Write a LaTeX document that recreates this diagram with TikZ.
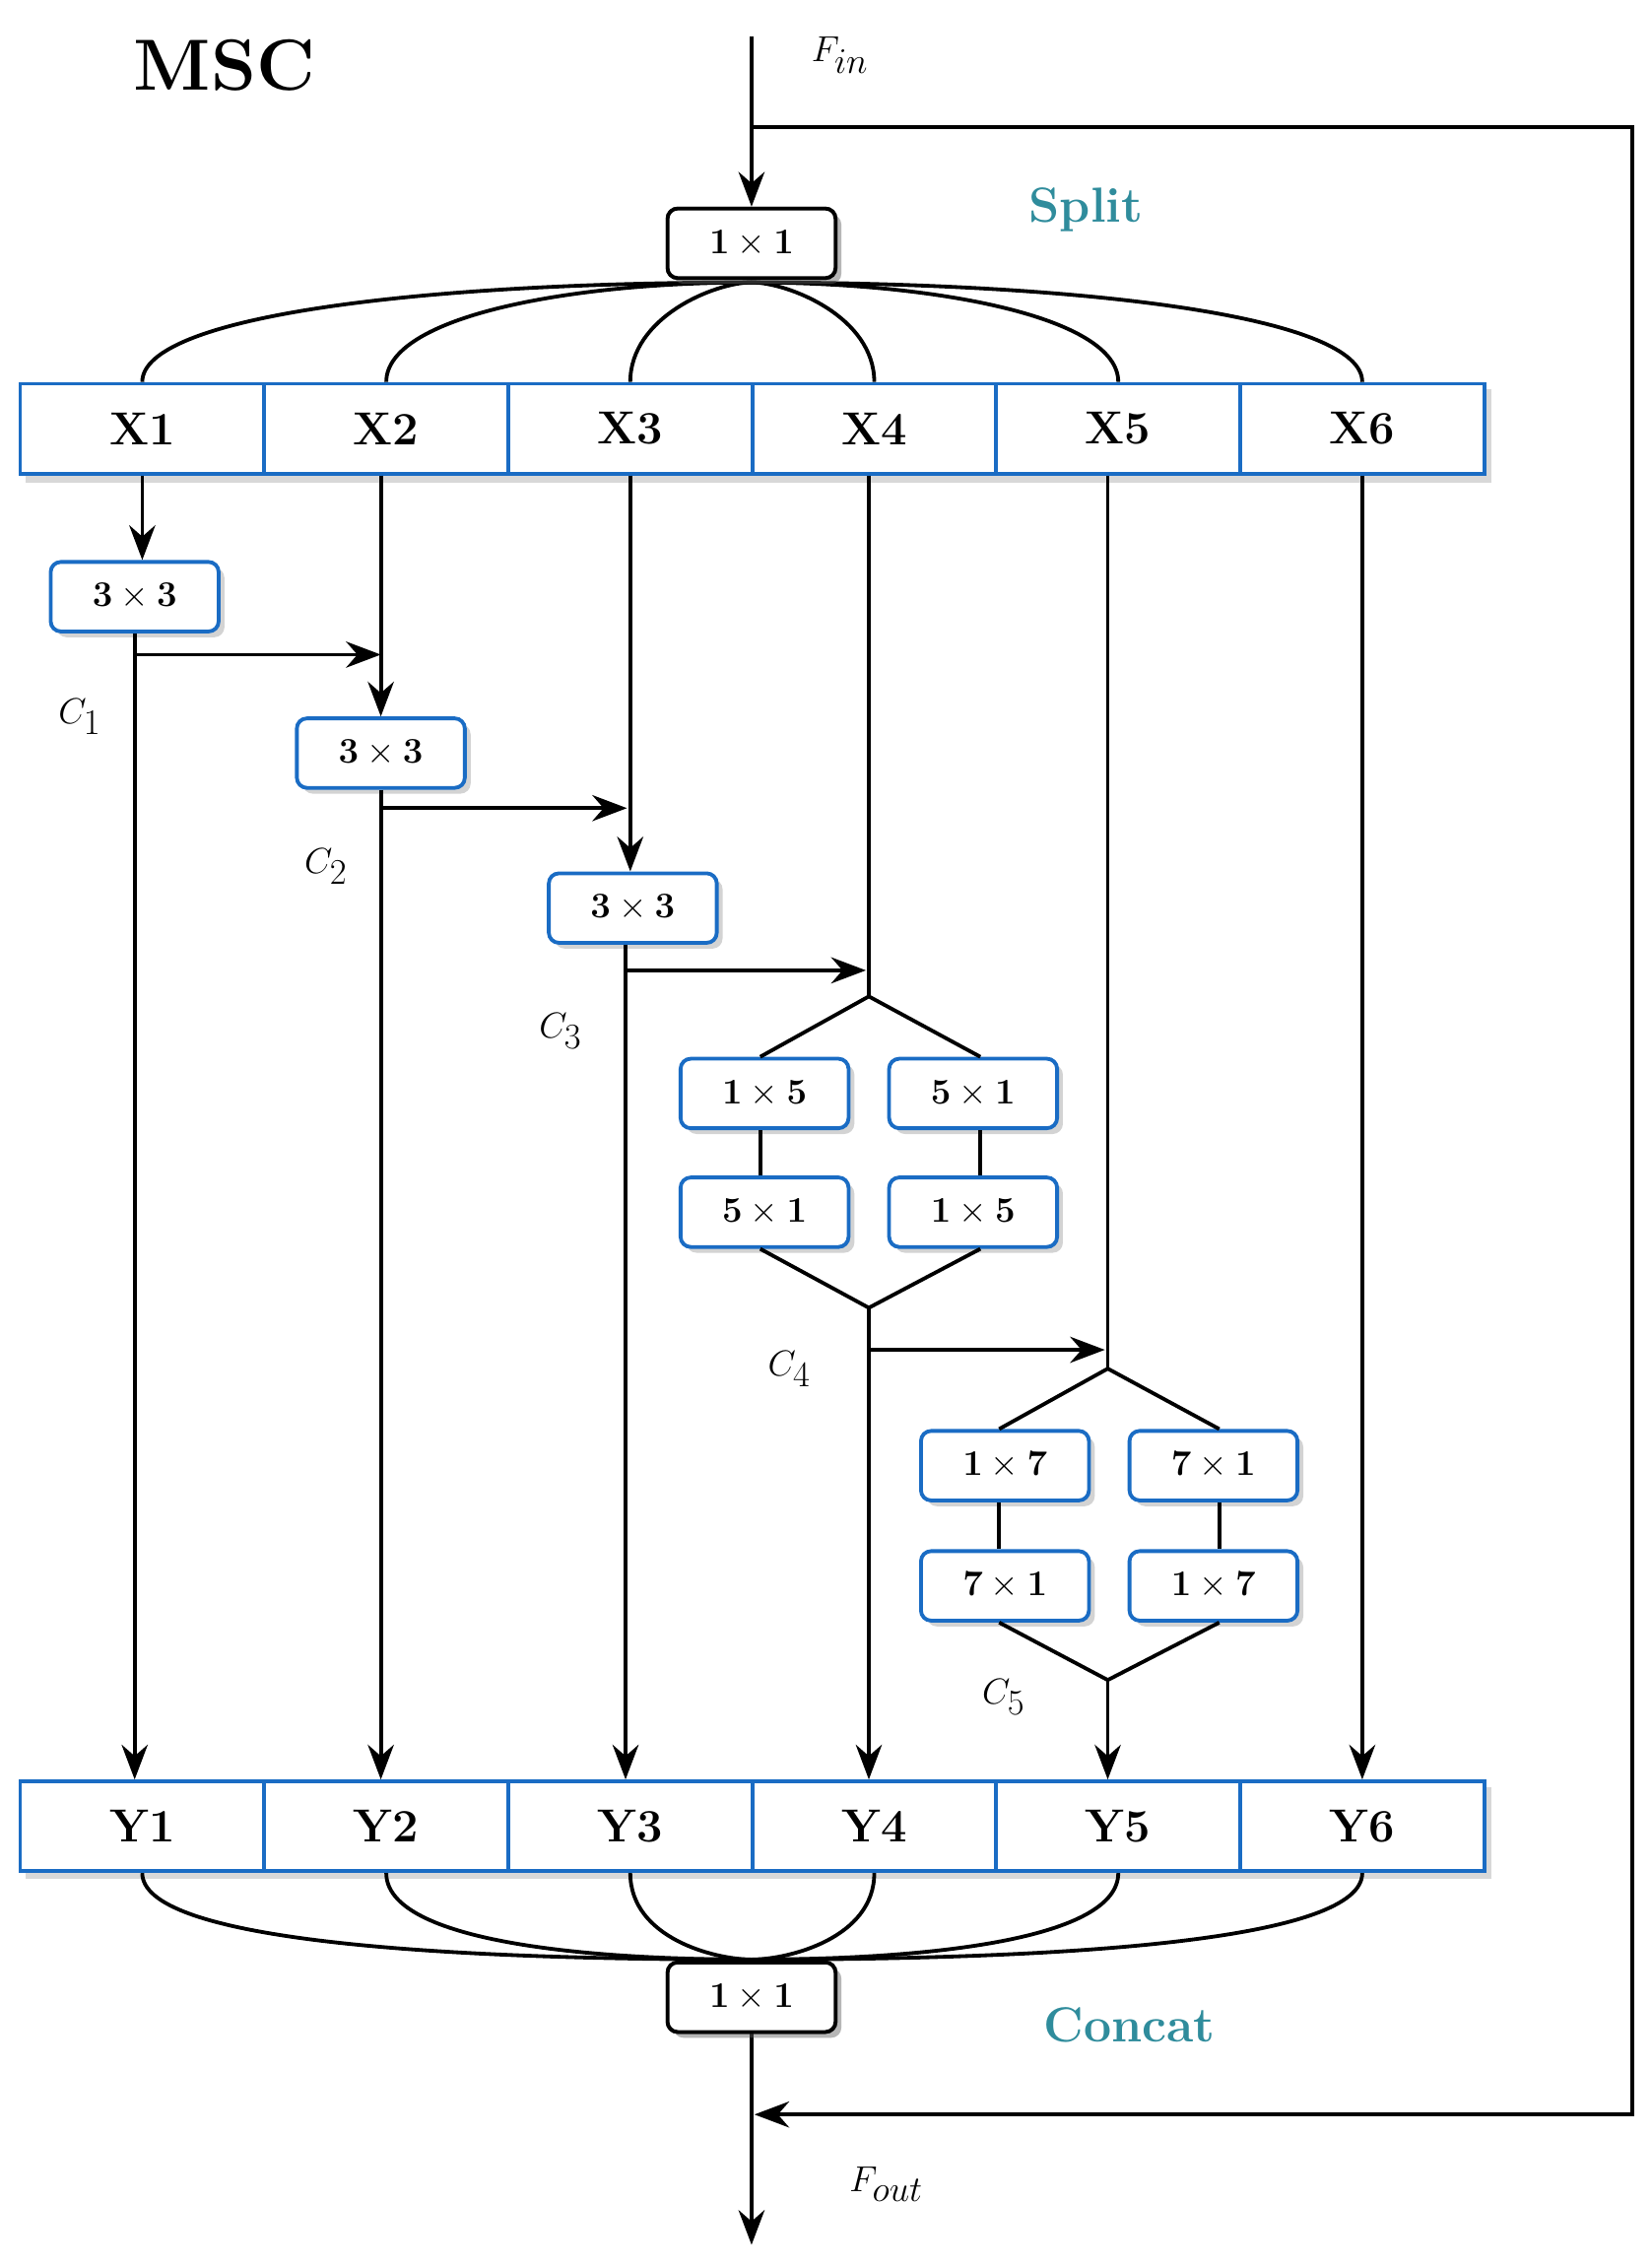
\documentclass[tikz,border=0pt]{standalone}
\usetikzlibrary{arrows.meta,shadows,calc}
\definecolor{bxblue}{HTML}{1A6CC4}
\definecolor{teal2}{HTML}{2F8C9C}
\begin{document}
\begin{tikzpicture}[x=1pt,y=-1pt,line width=2.6pt,
  arr/.style={-{Stealth[length=24pt,width=18pt]}},
  op/.style={draw=bxblue,rounded corners=7pt,minimum width=116pt,minimum height=48pt,fill=white,inner sep=0pt,
    font=\fontsize{34}{38}\selectfont\bfseries,drop shadow={opacity=0.35,shadow xshift=4pt,shadow yshift=-4pt}},
  opk/.style={op,draw=black},
  cell/.style={draw=bxblue,minimum width=168.5pt,minimum height=62pt,fill=white,inner sep=0pt,
    font=\fontsize{32}{36}\selectfont\bfseries},
  clab/.style={font=\fontsize{50}{54}\selectfont\itshape},
  lab/.style={font=\fontsize{34}{38}\selectfont\bfseries,text=teal2}]
\useasboundingbox (0,0) rectangle (1140,1566);
\node[font=\fontsize{50}{54}\selectfont\bfseries] (msc) at (155,45) {MSC};
\node[clab] (fin) at (580,38) {$F_{in}$};
\node[clab] (fout) at (612,1508) {$F_{out}$};
\node[lab] (split) at (750,145) {Split};
\node[lab] (concat) at (780,1398) {Concat};
% rows
\fill[gray!60,opacity=0.5] (18,269) rectangle (1030,333);
\fill[gray!60,opacity=0.5] (18,1234) rectangle (1030,1297);
\foreach \i in {1,...,6}{
  \node[cell] (X\i) at ({14+168.5*(\i-0.5)},296) {X\i};
  \node[cell] (Y\i) at ({14+168.5*(\i-0.5)},1261) {Y\i};
}
\node[opk] (top) at (519,168) {$\mathbf{1\times 1}$};
\node[opk] (bot) at (519,1379) {$\mathbf{1\times 1}$};
\coordinate (fin0) at (519,25);
\draw[arr] (fin0) -- (top.north);
\coordinate (fb1) at (519,88); \coordinate (fb2) at (1127,88);
\coordinate (fb3) at (1127,1460); \coordinate (fb4) at (521,1460);
\draw[arr] (fb1) -- (fb2) -- (fb3) -- (fb4);
\coordinate (outend) at (519,1550);
\draw[arr] (bot.south) -- (outend);
% split curves
\coordinate (ts) at (519,195);
\coordinate (bs) at (519,1353);
\foreach \i/\c in {1/0.55,2/0.5,3/0.3,4/0.3,5/0.5,6/0.55}{
  \draw (ts) .. controls ($(ts)!\c!(X\i.north |- ts)$) and ($(X\i.north)+(0,-45)$) .. (X\i.north);
  \draw (bs) .. controls ($(bs)!\c!(Y\i.south |- bs)$) and ($(Y\i.south)+(0,45)$) .. (Y\i.south);
}
% ops
\node[op] (a1) at (93,412) {$\mathbf{3\times 3}$};
\node[op] (a2) at (263,520) {$\mathbf{3\times 3}$};
\node[op] (a3) at (437,627) {$\mathbf{3\times 3}$};
\node[op] (b1) at (528,755) {$\mathbf{1\times 5}$};
\node[op] (b2) at (672,755) {$\mathbf{5\times 1}$};
\node[op] (b3) at (528,837) {$\mathbf{5\times 1}$};
\node[op] (b4) at (672,837) {$\mathbf{1\times 5}$};
\node[op] (c1) at (694,1012) {$\mathbf{1\times 7}$};
\node[op] (c2) at (838,1012) {$\mathbf{7\times 1}$};
\node[op] (c3) at (694,1095) {$\mathbf{7\times 1}$};
\node[op] (c4) at (838,1095) {$\mathbf{1\times 7}$};
\node[opk] (top) at (519,168) {$\mathbf{1\times 1}$};
\node[opk] (bot) at (519,1379) {$\mathbf{1\times 1}$};
% column 1
\draw[arr] (X1.south) -- (X1.south |- a1.north);
\coordinate (p1) at (93,452);
\draw (a1.south -| p1) -- (p1);
\draw[arr] (p1) -- (Y1.north -| p1);
\coordinate (q1) at (263,452);
\draw[arr] (p1) -- (q1);
% column 2
\draw[arr] (X2.south -| a2.north) -- (a2.north);
\coordinate (p2) at (263,558);
\draw[arr] (a2.south) -- (Y2.north -| a2.south);
\coordinate (q2) at (433,558);
\draw[arr] (p2) -- (q2);
% column 3
\draw[arr] (X3.south) -- (X3.south |- a3.north);
\coordinate (p3) at (432,670);
\draw (a3.south -| p3) -- (p3);
\draw[arr] (p3) -- (Y3.north -| p3);
\coordinate (q3) at (598,670);
\draw[arr] (p3) -- (q3);
% column 4
\coordinate (d4t) at (600,688);
\coordinate (d4b) at (600,903);
\draw (X4.south -| d4t) -- (d4t);
\draw ($(b1.north)+(-3,0)$) -- (d4t) -- ($(b2.north)+(5,0)$);
\draw ($(b1.south)+(-3,0)$) -- ($(b3.north)+(-3,0)$);
\draw ($(b2.south)+(5,0)$) -- ($(b4.north)+(5,0)$);
\draw ($(b3.south)+(-3,0)$) -- (d4b) -- ($(b4.south)+(5,0)$);
\draw[arr] (d4b) -- (Y4.north -| d4b);
\coordinate (p4) at (600,932);
\coordinate (q4) at (763,932);
\draw[arr] (p4) -- (q4);
% column 5
\coordinate (d5t) at (765,945);
\coordinate (d5b) at (765,1160);
\draw (X5.south -| d5t) -- (d5t);
\draw ($(c1.north)+(-4,0)$) -- (d5t) -- ($(c2.north)+(4,0)$);
\draw ($(c1.south)+(-4,0)$) -- ($(c3.north)+(-4,0)$);
\draw ($(c2.south)+(4,0)$) -- ($(c4.north)+(4,0)$);
\draw ($(c3.south)+(-4,0)$) -- (d5b) -- ($(c4.south)+(4,0)$);
\draw[arr] (d5b) -- (Y5.north -| d5b);
% column 6
\draw[arr] (X6.south) -- (Y6.north);
% C labels
\node[clab] (l1) at (55,495) {$C_1$};
\node[clab] (l2) at (225,598) {$C_2$};
\node[clab] (l3) at (387,712) {$C_3$};
\node[clab] (l4) at (545,945) {$C_4$};
\node[clab] (l5) at (693,1172) {$C_5$};
\end{tikzpicture}
\end{document}
